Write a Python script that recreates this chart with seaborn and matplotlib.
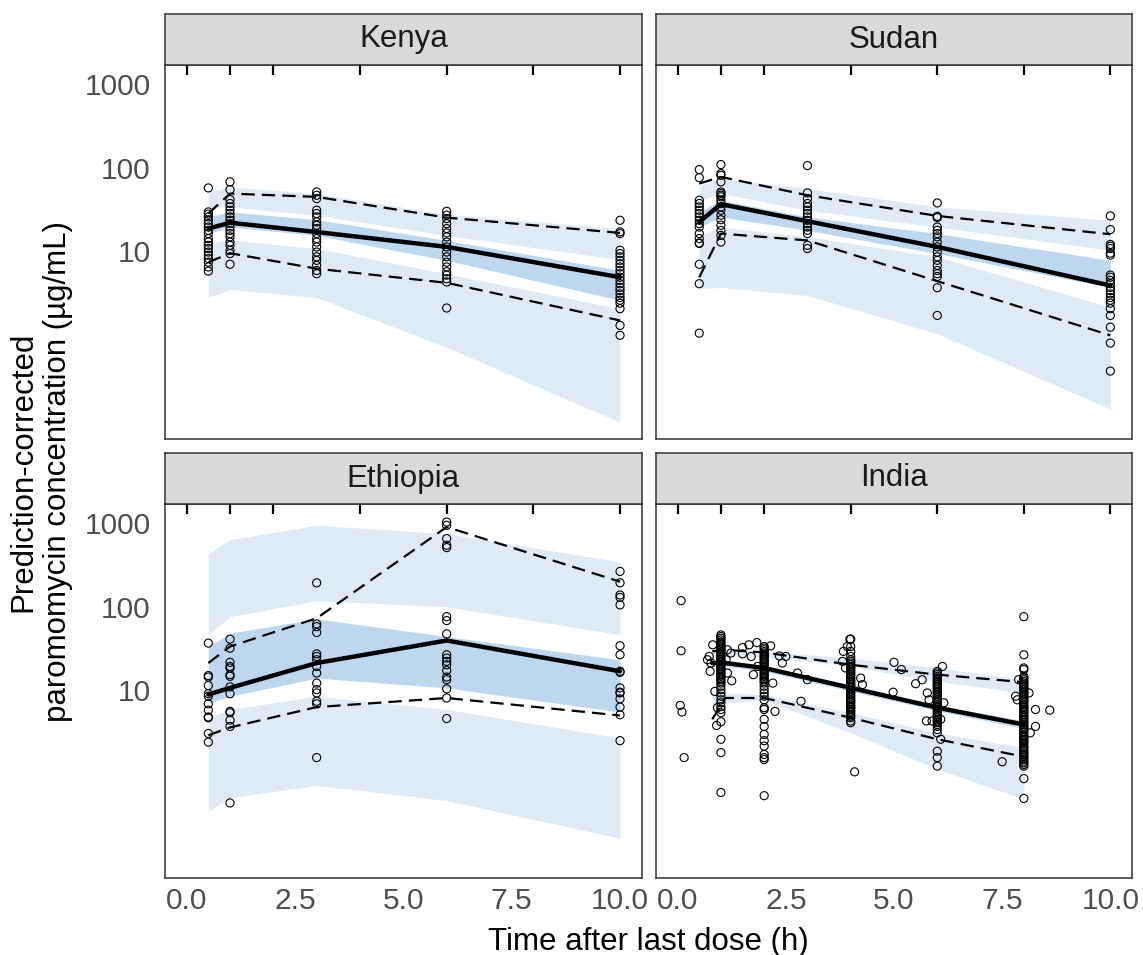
import numpy as np
import pandas as pd
import matplotlib.pyplot as plt
import seaborn as sns

sns.set_theme(style="white")
plt.rcParams['font.family'] = ['Liberation Sans', 'DejaVu Sans']

# bin edges shown as ticks on top of every panel
bin_edges = [0, 1, 2, 4, 6, 8, 10]

# --- Kenya ---
kenya_t = [0.5, 1, 3, 6, 10]
kenya_med = [18.7, 22.0, 17.0, 11.3, 4.9]
kenya_p95 = [28.3, 49.0, 44.8, 25.3, 16.6]
kenya_p05 = [7.4, 9.5, 6.2, 4.2, 1.49]
kenya_p95_ci = ([34.0, 34.0, 27.0, 15.5, 7.95], [51.3, 58.9, 49.0, 27.8, 18.7])
kenya_med_ci = ([16.3, 19.5, 15.5, 7.8, 2.6], [25.8, 29.6, 23.9, 13.5, 5.9])
kenya_p05_ci = ([2.8, 3.5, 2.8, 0.71, 0.09], [12.4, 13.7, 10.8, 5.4, 2.06])
kenya_obs = [
    [57.3, 29.6, 27.8, 25.8, 23.5, 21.4, 19.5, 17.8, 16.3, 14.2, 12.9, 11.8, 10.8, 9.8, 9.0, 8.2, 7.4, 6.5, 5.8],
    [67.7, 54.7, 41.6, 37.3, 34.0, 31.0, 28.3, 25.8, 23.5, 21.4, 19.5, 17.8, 16.3, 14.9, 12.9, 11.8, 10.3, 9.4, 7.0],
    [51.3, 46.8, 42.7, 31.0, 28.3, 25.8, 22.5, 20.5, 18.7, 16.3, 14.2, 12.9, 11.3, 9.8, 8.6, 7.8, 6.8, 5.9, 5.4],
    [30.1, 27.0, 24.6, 21.4, 18.7, 16.6, 14.9, 12.9, 11.3, 9.8, 8.6, 7.4, 6.5, 5.7, 5.2, 4.7, 4.3, 2.1],
    [23.5, 17.1, 16.3, 10.3, 9.4, 8.6, 7.8, 7.1, 6.5, 5.9, 5.4, 4.9, 4.5, 4.1, 3.7, 3.4, 3.1, 2.8, 2.6, 2.4, 2.06, 1.30, 0.99],
]

# --- Sudan ---
sudan_t = [0.5, 1, 3, 6, 10]
sudan_med = [22.5, 36.6, 22.9, 11.3, 3.9]
sudan_p95 = [64.6, 77.6, 46.8, 26.5, 16.0]
sudan_p05 = [4.9, 16.3, 13.5, 4.4, 0.99]
sudan_p95_ci = ([40.8, 49.1, 31.0, 19.5, 10.3], [61.7, 74.2, 56.3, 34.0, 23.5])
sudan_med_ci = ([19.5, 25.8, 17.8, 9.4, 3.7], [29.6, 40.8, 25.8, 16.3, 7.8])
sudan_p05_ci = ([3.57, 3.7, 2.97, 1.03, 0.13], [15.5, 19.5, 14.9, 8.6, 2.15])
sudan_obs = [
    [95, 76, 40.8, 37.3, 34.0, 31.0, 28.3, 25.8, 23.5, 21.4, 19.5, 16.3, 14.2, 12.6, 12.4, 7.0, 4.1, 1.05],
    [109, 85, 81, 67.7, 51.3, 49.1, 46.8, 44.8, 40.8, 37.3, 34.0, 31.0, 27.0, 23.9, 20.5, 17.8, 15.5, 12.9],
    [106, 49.9, 42.7, 37.3, 34.0, 31.0, 28.3, 25.8, 23.5, 21.4, 19.5, 17.8, 16.3, 11.8, 10.8],
    [37.9, 26.2, 25.3, 19.5, 17.8, 16.3, 14.9, 12.9, 11.3, 9.8, 8.6, 7.8, 6.8, 5.9, 5.4, 5.0, 3.67, 1.71],
    [26.5, 18.2, 12.1, 11.5, 10.8, 9.5, 9.0, 5.2, 4.9, 4.5, 4.1, 3.7, 3.4, 3.1, 2.8, 2.6, 2.4, 2.06, 1.71, 1.24, 0.80, 0.37],
]

# --- Ethiopia ---
ethiopia_t = [0.5, 1, 3, 6, 10]
ethiopia_med = [8.9, 10.7, 21.2, 39.4, 16.9]
ethiopia_p95 = [21.2, 33.4, 72.7, 897, 199]
ethiopia_p05 = [2.9, 3.6, 6.3, 8.1, 5.0]
ethiopia_p95_ci = ([46.1, 76, 118, 100, 46.1], [432, 634, 940, 747, 344])
ethiopia_med_ci = ([7.1, 8.5, 14.0, 10.7, 5.5], [33.4, 48.2, 71.4, 44.0, 23.2])
ethiopia_p05_ci = ([0.36, 0.52, 0.73, 0.48, 0.17], [4.7, 5.9, 8.5, 5.9, 2.7])
ethiopia_obs = [
    [36.7, 15.0, 14.4, 11.4, 9.1, 8.5, 6.9, 5.8, 4.8, 4.7, 3.05, 2.4],
    [40.9, 31.9, 21.6, 19.3, 18.5, 15.4, 14.7, 11.0, 9.1, 5.6, 5.4, 4.4, 3.7, 0.45],
    [193, 62.2, 57.8, 49.1, 27.3, 25.4, 23.2, 19.3, 16.1, 12.2, 10.2, 9.3, 7.4, 6.9, 1.57],
    [1028, 940, 652, 543, 509, 76, 68.2, 47.3, 26.6, 24.3, 22.2, 20.2, 17.3, 14.4, 13.4, 10.4, 8.1, 4.6],
    [264, 193, 138, 129, 105, 34.1, 26.6, 16.9, 16.4, 10.7, 9.5, 9.3, 7.9, 6.3, 5.1, 2.5],
]

# --- India ---
india_t = [0.8, 1.1, 2.0, 4.0, 6.0, 8.0]
india_med = [21.2, 21.2, 18.5, 10.7, 6.2, 3.9]
india_p95 = [29.2, 30.5, 28.4, 20.2, 15.4, 12.5]
india_p05 = [4.5, 8.1, 8.1, 4.7, 2.6, 1.61]
india_p95_ci = ([25.0, 25.0, 25.4, 19.3, 12.8, 9.3], [32.0, 32.0, 29.2, 24.3, 18.5, 13.4])
india_med_ci = ([19.5, 19.5, 17.0, 9.8, 5.7, 3.5], [22.5, 22.5, 19.5, 11.7, 6.7, 4.3])
india_p05_ci = ([6.0, 7.0, 7.7, 3.1, 1.14, 0.50], [9.3, 9.3, 8.9, 5.4, 3.1, 2.06])
india_obs_t = [1, 2, 4, 6, 8]
india_obs = [
    [46, 44, 42, 40, 38, 36.6, 35, 33.4, 32, 30.5, 29, 27.9, 26.6, 25.4, 24.3, 23.2, 22.2, 21.2, 20.2,
     19.3, 18.5, 17.7, 16.9, 16.1, 15.4, 14.7, 14.0, 13.4, 12.8, 12.2, 11.2, 10.2, 9.3, 8.5, 7.7, 7.1,
     6.4, 5.9, 5.4, 4.2, 2.6, 1.8, 0.60],
    [33.4, 32, 30.5, 29, 27.9, 26.6, 25.4, 24.3, 23.2, 22.2, 21.2, 20.2, 19.3, 18.5, 17.7, 16.9, 16.1,
     15.4, 14.7, 14.0, 13.4, 12.8, 12.2, 11.2, 10.2, 9.3, 8.5, 7.7, 6.2, 5.9, 4.5, 3.7, 2.97, 2.5,
     2.15, 1.71, 1.57, 1.49, 0.55],
    [40.9, 33.4, 29.2, 25.4, 23.2, 22.2, 21.2, 20.2, 19.3, 18.5, 17.7, 16.9, 16.1, 15.4, 14.7, 14.0,
     13.4, 12.8, 12.2, 11.7, 11.2, 10.7, 10.2, 9.7, 9.3, 8.9, 8.5, 8.1, 7.7, 7.4, 7.1, 6.7, 6.4, 6.2,
     5.9, 5.6, 5.4, 5.1, 4.9, 4.7, 4.3, 4.1],
    [16.9, 16.1, 15.4, 14.7, 14.0, 13.4, 12.8, 12.2, 11.7, 11.2, 10.7, 10.2, 9.7, 9.3, 8.9, 8.5, 8.1,
     7.7, 7.4, 7.1, 6.7, 6.4, 6.2, 5.9, 5.6, 5.4, 5.1, 4.9, 4.7, 4.5, 4.3, 4.1, 3.9, 3.7, 3.4, 3.1,
     1.87, 1.57, 1.24],
    [76, 26.6, 18.5, 17.7, 14.7, 14.0, 13.4, 12.8, 12.2, 11.7, 11.2, 10.7, 10.2, 9.7, 9.3, 8.9, 8.5,
     8.1, 7.7, 7.4, 7.1, 6.7, 6.4, 6.2, 5.9, 5.6, 5.4, 5.1, 4.9, 4.7, 4.5, 4.3, 4.1, 3.9, 3.7, 3.5,
     3.4, 3.2, 3.1, 2.9, 2.8, 2.7, 2.6, 2.5, 2.4, 2.3, 2.15, 2.06, 1.96, 1.87, 1.79, 1.71, 1.64, 1.57,
     1.49, 1.42, 1.36, 1.30, 1.24, 0.88, 0.51],
]
india_extra_t = [0.08, 0.08, 0.06, 0.1, 0.15, 0.73, 0.77, 0.81, 0.69, 0.75, 0.86, 0.9, 1.23, 1.15,
                 1.25, 1.15, 1.12, 0.92, 1.5, 1.5, 1.65, 1.83, 1.75, 2.15, 2.35, 2.5, 2.42, 2.2, 2.25,
                 2.77, 2.85, 3.0, 1.7, 1.85, 3.83, 3.92, 3.81, 3.88, 4.23, 4.27, 4.09, 3.98, 5.0, 5.17,
                 4.98, 5.5, 5.65, 6.12, 6.08, 5.77, 5.81, 5.75, 5.88, 6.15, 6.08, 7.5, 7.81, 7.85, 8.12,
                 8.27, 8.27, 8.6, 8.15, 7.88]
india_extra_c = [118, 29.7, 6.6, 5.5, 1.57, 25.4, 21.2, 35, 23.2, 16.9, 9.7, 3.8, 27.9, 30.5,
                 13.0, 16.1, 23.2, 6.2, 32.5, 27.3, 35, 37.2, 15.4, 34, 25.8, 25.4, 21.2, 12.2, 5.6,
                 16.1, 7.4, 13.4, 25.4, 19.3, 29.2, 33.4, 22.2, 18.5, 14.0, 11.7, 1.06, 40.9, 21.6, 17.7,
                 9.5, 12.0, 13.4, 19.3, 2.6, 9.3, 7.7, 4.3, 4.3, 7.1, 4.5, 1.4, 8.5, 7.7, 9.3,
                 5.9, 3.7, 5.8, 3.1, 13.4]


def obs_frame(times, groups, extra_t=(), extra_c=()):
    rows = [(t, c) for t, g in zip(times, groups) for c in g]
    rows += list(zip(extra_t, extra_c))
    return pd.DataFrame(rows, columns=["time", "conc"])


panels = [
    ("Kenya", kenya_t, kenya_med, kenya_p95, kenya_p05, kenya_p95_ci, kenya_med_ci, kenya_p05_ci,
     obs_frame(kenya_t, kenya_obs)),
    ("Sudan", sudan_t, sudan_med, sudan_p95, sudan_p05, sudan_p95_ci, sudan_med_ci, sudan_p05_ci,
     obs_frame(sudan_t, sudan_obs)),
    ("Ethiopia", ethiopia_t, ethiopia_med, ethiopia_p95, ethiopia_p05, ethiopia_p95_ci, ethiopia_med_ci,
     ethiopia_p05_ci, obs_frame(ethiopia_t, ethiopia_obs)),
    ("India", india_t, india_med, india_p95, india_p05, india_p95_ci, india_med_ci, india_p05_ci,
     obs_frame(india_obs_t, india_obs, india_extra_t, india_extra_c)),
]

LIGHT = "#DEEBF7"
DARK = "#BDD7EE"
BORDER = "#333333"

W, H = 1143, 955
fig = plt.figure(figsize=(W / 100, H / 100), dpi=100)
cols = [(165, 641.7), (656, 1132)]
rows = [(65, 439), (504, 878)]
strip_h = 51

for i, (name, t, med, p95, p05, p95_ci, med_ci, p05_ci, df) in enumerate(panels):
    r, c = divmod(i, 2)
    x0, x1 = cols[c]
    y0, y1 = rows[r]
    ax = fig.add_axes([x0 / W, 1 - y1 / H, (x1 - x0) / W, (y1 - y0) / H])
    sax = fig.add_axes([x0 / W, 1 - y0 / H, (x1 - x0) / W, strip_h / H])

    # prediction intervals
    ax.fill_between(t, p95_ci[0], p95_ci[1], color=LIGHT, lw=0, zorder=1)
    ax.fill_between(t, p05_ci[0], p05_ci[1], color=LIGHT, lw=0, zorder=1)
    ax.fill_between(t, med_ci[0], med_ci[1], color=DARK, lw=0, zorder=1)

    # observed percentiles
    sns.lineplot(x=t, y=p95, ax=ax, estimator=None, sort=False, color="black",
                 linewidth=1.6, linestyle=(0, (6, 3.2)), zorder=3)
    sns.lineplot(x=t, y=p05, ax=ax, estimator=None, sort=False, color="black",
                 linewidth=1.6, linestyle=(0, (6, 3.2)), zorder=3)
    sns.lineplot(x=t, y=med, ax=ax, estimator=None, sort=False, color="black",
                 linewidth=3.2, zorder=3)

    # observations
    sns.scatterplot(data=df, x="time", y="conc", ax=ax, marker="o", s=34,
                    facecolors="none", edgecolor="black", linewidth=0.8, zorder=4)

    # bin edges on top
    ax.vlines(bin_edges, 1 - 10 / (y1 - y0), 1, transform=ax.get_xaxis_transform(),
              color="black", lw=1.6, zorder=5)

    ax.set_yscale("log")
    ax.set_xlim(-0.5, 10.5)
    ax.set_ylim(0.057, 1690)
    ax.set_xlabel("")
    ax.set_ylabel("")
    ax.minorticks_off()
    ax.set_facecolor("white")
    for s in ax.spines.values():
        s.set_color(BORDER)
        s.set_linewidth(1.1)

    ax.set_xticks([0, 2.5, 5, 7.5, 10])
    ax.set_yticks([10, 100, 1000])
    ax.tick_params(axis="both", length=4.7, width=1.0, color=BORDER, labelcolor="#4D4D4D",
                   labelsize=21.5, direction="out")
    ax.tick_params(axis="x", pad=1.5)
    ax.tick_params(axis="y", pad=5.5)
    if r == 1:
        ax.set_xticklabels(["0.0", "2.5", "5.0", "7.5", "10.0"])
    else:
        ax.tick_params(axis="x", bottom=False, labelbottom=False)
    if c == 0:
        ax.set_yticklabels(["10", "100", "1000"])
    else:
        ax.tick_params(axis="y", left=False, labelleft=False)

    # facet strip
    sax.set_facecolor("#D9D9D9")
    sax.set_xticks([])
    sax.set_yticks([])
    for s in sax.spines.values():
        s.set_color(BORDER)
        s.set_linewidth(1.1)
    sax.text(0.5, 0.5, name, ha="center", va="center", fontsize=22.5, color="#1A1A1A",
             transform=sax.transAxes)

fig.text(648.5 / W, 1 - 950 / H, "Time after last dose (h)", ha="center", va="baseline",
         fontsize=22.5, color="black")
fig.text(41 / W, 1 - 471.5 / H, "Prediction-corrected\nparomomycin concentration (µg/mL)",
         ha="center", va="center", rotation=90, fontsize=22.5, color="black",
         multialignment="center", linespacing=1.2)

fig.savefig("out.png", dpi=100, facecolor="white")
